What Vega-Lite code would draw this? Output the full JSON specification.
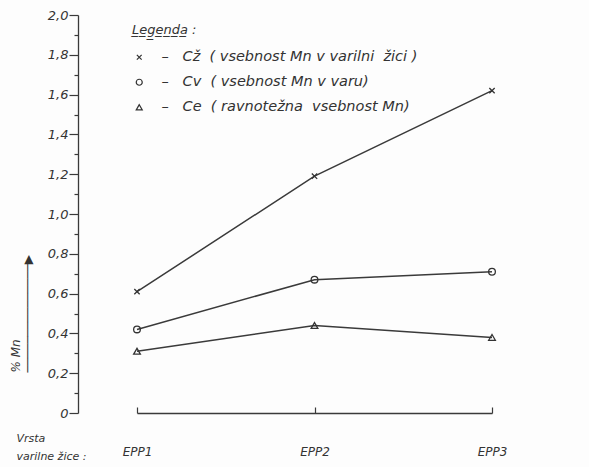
{
  "$schema": "https://vega.github.io/schema/vega-lite/v6.json",
  "width": 507,
  "height": 398,
  "autosize": {"type": "none"},
  "padding": {"left": 78, "top": 15, "right": 4, "bottom": 54},
  "background": "#fdfdfd",
  "config": {
    "view": {"stroke": null},
    "font": "DejaVu Sans",
    "axis": {"grid": false, "domainColor": "#3a3a3a", "tickColor": "#3a3a3a", "labelColor": "#333", "titleColor": "#333", "labelFont": "DejaVu Sans", "labelFontStyle": "italic", "titleFont": "DejaVu Sans", "titleFontStyle": "italic", "titleFontWeight": "normal", "domainWidth": 1.3, "tickWidth": 1.2}
  },
  "data": {
    "values": [
      {"wire": "EPP1", "series": "Cž", "value": 0.61},
      {"wire": "EPP2", "series": "Cž", "value": 1.19},
      {"wire": "EPP3", "series": "Cž", "value": 1.62},
      {"wire": "EPP1", "series": "Cv", "value": 0.42},
      {"wire": "EPP2", "series": "Cv", "value": 0.67},
      {"wire": "EPP3", "series": "Cv", "value": 0.71},
      {"wire": "EPP1", "series": "Ce", "value": 0.31},
      {"wire": "EPP2", "series": "Ce", "value": 0.44},
      {"wire": "EPP3", "series": "Ce", "value": 0.38}
    ]
  },
  "encoding": {
    "x": {
      "field": "wire", "type": "ordinal",
      "scale": {"type": "point", "domain": ["EPP1", "EPP2", "EPP3"], "range": [59, 414], "padding": 0},
      "axis": {"labelAngle": 0, "labelFontSize": 12, "tickSize": -6, "labelPadding": 39, "labelBaseline": "top",
        "title": ["Vrsta", "varilne žice :"], "titleFontSize": 11, "titleAlign": "left", "titleAnchor": "start", "titleX": -62, "titleY": 19, "titleBaseline": "top", "titleLineHeight": 18}
    },
    "y": {
      "field": "value", "type": "quantitative",
      "scale": {"domain": [0, 2], "nice": false, "zero": true},
      "axis": {
        "values": [0, 0.1, 0.2, 0.3, 0.4, 0.5, 0.6, 0.7, 0.8, 0.9, 1.0, 1.1, 1.2, 1.3, 1.4, 1.5, 1.6, 1.7, 1.8, 1.9, 2.0],
        "labelExpr": "round(datum.value*10)%2==0 ? (datum.value==0 ? '0' : replace(format(datum.value,'.1f'),'.',',')) : ''",
        "tickSize": {"condition": {"test": "round(datum.value*10)%2==0", "value": 9}, "value": 4},
        "labelPadding": 1,
        "labelFontSize": 13,
        "title": ["% Mn", "───────────────▶"],
        "titleFontSize": 12,
        "titleAngle": -90,
        "titleAlign": "left",
        "titleX": -63,
        "titleY": 357,
        "titleBaseline": "middle",
        "titleLineHeight": 12
      }
    }
  },
  "layer": [
    {
      "mark": {"type": "line", "color": "#3a3a3a", "strokeWidth": 1.5},
      "encoding": {"detail": {"field": "series"}}
    },
    {
      "mark": {"type": "point", "filled": false, "color": "#333", "strokeWidth": 1.3, "size": 45, "opacity": 1},
      "encoding": {
        "shape": {
          "field": "series", "type": "nominal",
          "scale": {"domain": ["Cž", "Cv", "Ce"], "range": ["M-0.8,-0.8L0.8,0.8M-0.8,0.8L0.8,-0.8", "circle", "triangle-up"]},
          "legend": {
            "orient": "none", "legendX": 54, "legendY": 9,
            "title": "L̲e̲g̲e̲n̲d̲a̲ :",
            "titleFontSize": 13, "titleFontStyle": "italic", "titleFontWeight": "normal", "titleColor": "#333", "titlePadding": 13,
            "labelFontSize": 14.5, "labelFontStyle": "italic", "labelColor": "#333",
            "labelExpr": "datum.label=='Cž' ? '–\u00a0\u00a0\u00a0Cž\u00a0\u00a0(\u00a0vsebnost Mn v varilni\u00a0\u00a0žici\u00a0)' : datum.label=='Cv' ? '–\u00a0\u00a0\u00a0Cv\u00a0\u00a0(\u00a0vsebnost Mn v varu)' : '–\u00a0\u00a0\u00a0Ce\u00a0\u00a0(\u00a0ravnotežna\u00a0\u00a0vsebnost Mn)'",
            "symbolSize": 36, "symbolStrokeColor": "#333", "symbolStrokeWidth": 1.2, "symbolFillColor": "transparent",
            "rowPadding": 10, "labelOffset": 15, "labelLimit": 440
          }
        }
      }
    }
  ]
}
